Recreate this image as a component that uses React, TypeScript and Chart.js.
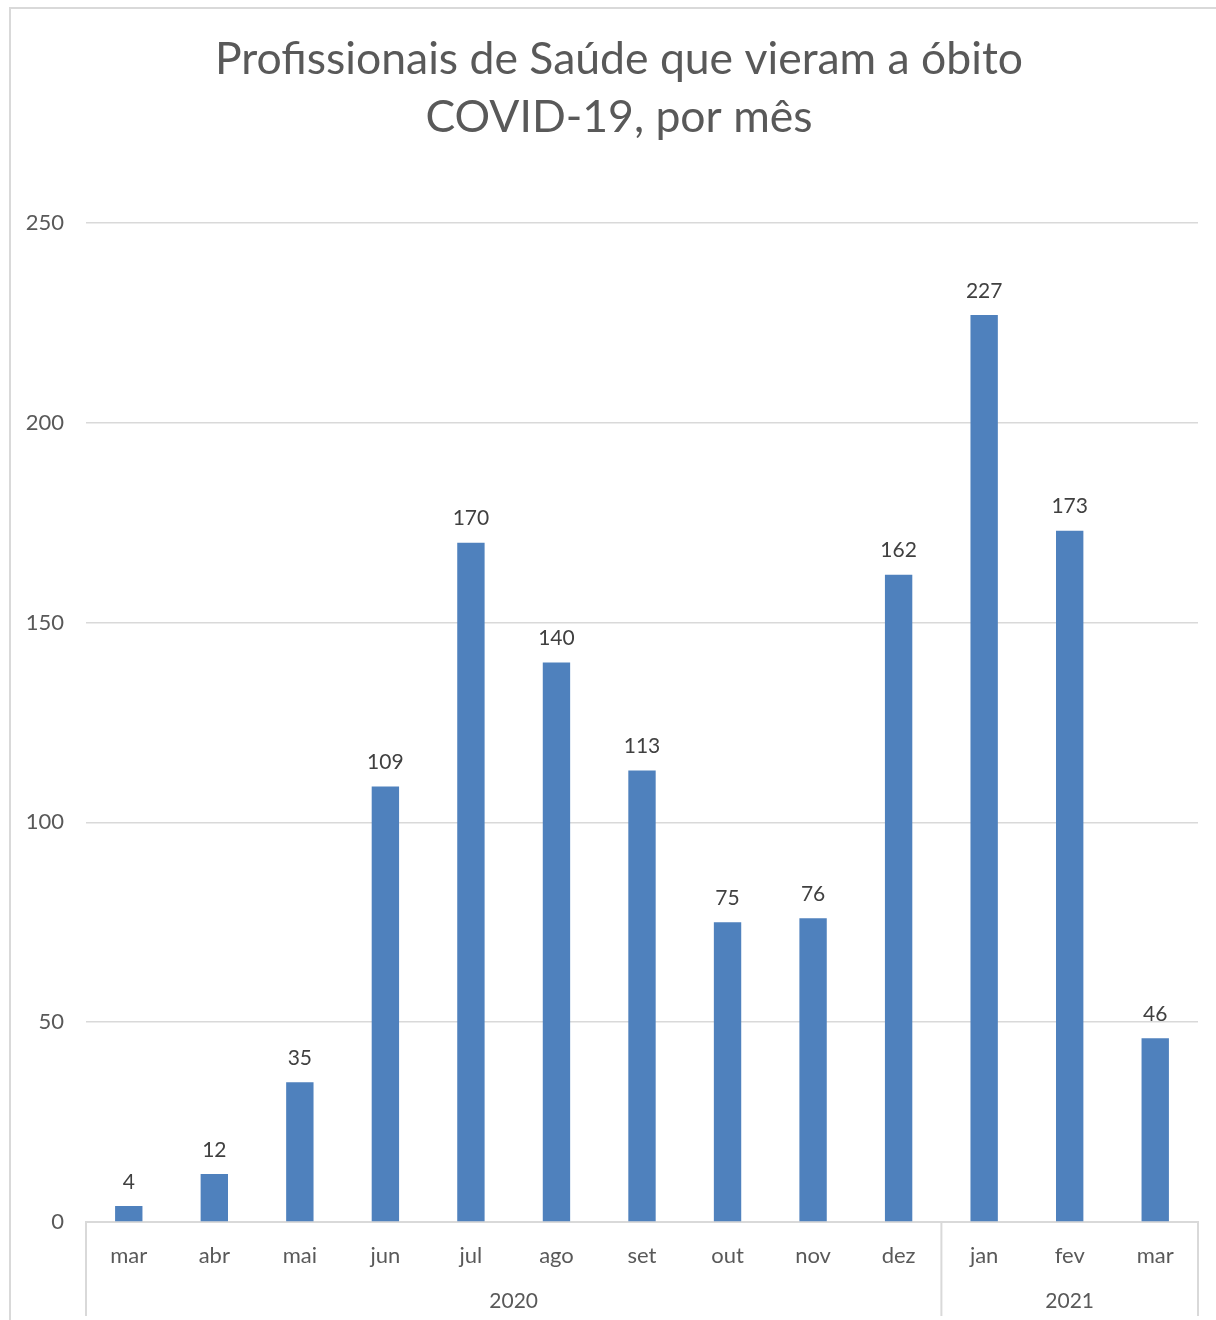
import React, { useEffect, useRef } from "react";
import { Chart, registerables } from "chart.js";

Chart.register(...registerables);

const titleLines = ["Profissionais de Saúde que vieram a óbito", "COVID-19, por mês"];
const months = ["mar", "abr", "mai", "jun", "jul", "ago", "set", "out", "nov", "dez", "jan", "fev", "mar"];
const deaths = [4, 12, 35, 109, 170, 140, 113, 75, 76, 162, 227, 173, 46];
const years = ["2020", "2021"];
const yearStarts = [0, 10];
const yTicks = [0, 50, 100, 150, 200, 250];

const FONT = "Lato, 'Open Sans', sans-serif";
const GRID = "#d9d9d9";

const framePlugin = {
  id: "frame",
  beforeDraw(chart: any) {
    const { ctx } = chart;
    ctx.save();
    ctx.fillStyle = "#ffffff";
    ctx.fillRect(0, 0, chart.width, chart.height);
    ctx.strokeStyle = GRID;
    ctx.lineWidth = 2;
    ctx.beginPath();
    ctx.moveTo(10, chart.height);
    ctx.lineTo(10, 8);
    ctx.lineTo(chart.width, 8);
    ctx.stroke();
    ctx.font = `44.5px ${FONT}`;
    ctx.fillStyle = "#595959";
    ctx.textAlign = "center";
    ctx.textBaseline = "middle";
    titleLines.forEach((t, i) => {
      ctx.fillText(t, chart.width / 2 + 11, 60 + i * 58);
    });
    ctx.restore();
  },
};

const labelsPlugin = {
  id: "valueLabels",
  afterDatasetsDraw(chart: any) {
    const { ctx } = chart;
    const meta = chart.getDatasetMeta(0);
    ctx.save();
    ctx.font = `21px ${FONT}`;
    ctx.fillStyle = "#404040";
    ctx.textAlign = "center";
    ctx.textBaseline = "middle";
    meta.data.forEach((bar: any, i: number) => {
      ctx.fillText(String(deaths[i]), bar.x, bar.y - 24);
    });
    ctx.restore();
  },
};

const groupPlugin = {
  id: "yearGroups",
  afterDraw(chart: any) {
    const { ctx, chartArea } = chart;
    const xs = chart.scales.x;
    const n = months.length;
    const edge = (i: number) => {
      if (i <= 0) return chartArea.left;
      if (i >= n) return chartArea.right;
      return (xs.getPixelForValue(i - 1) + xs.getPixelForValue(i)) / 2;
    };
    const bounds = [...yearStarts, n];
    ctx.save();
    ctx.strokeStyle = GRID;
    ctx.lineWidth = 2;
    bounds.forEach((b) => {
      const x = edge(b);
      ctx.beginPath();
      ctx.moveTo(x, chartArea.bottom);
      ctx.lineTo(x, chart.height - 4);
      ctx.stroke();
    });
    ctx.font = `21px ${FONT}`;
    ctx.fillStyle = "#595959";
    ctx.textAlign = "center";
    ctx.textBaseline = "middle";
    years.forEach((y, k) => {
      const x0 = edge(bounds[k]);
      const x1 = edge(bounds[k + 1]);
      ctx.fillText(y, (x0 + x1) / 2, chartArea.bottom + 79);
    });
    ctx.restore();
  },
};

export default function App() {
  const ref = useRef<HTMLCanvasElement>(null);
  useEffect(() => {
    if (!ref.current) return;
    const chart = new Chart(ref.current, {
      type: "bar",
      data: {
        labels: months,
        datasets: [
          {
            data: deaths,
            backgroundColor: "#4f81bd",
            borderWidth: 0,
            barPercentage: 0.32,
            categoryPercentage: 1,
          },
        ],
      },
      options: {
        responsive: false,
        animation: false,
        devicePixelRatio: 1,
        layout: { padding: { left: 10, right: 18, top: 223, bottom: 0 } },
        plugins: {
          legend: { display: false },
          tooltip: { enabled: false },
          title: { display: false },
        },
        scales: {
          x: {
            grid: { display: false, drawTicks: false },
            border: { display: true, color: GRID, width: 2 },
            ticks: {
              color: "#595959",
              font: { family: FONT, size: 22 },
              padding: 21,
              maxRotation: 0,
            },
            afterFit(scale: any) {
              scale.height = 98;
            },
          },
          y: {
            min: 0,
            max: 250,
            afterBuildTicks(scale: any) {
              scale.ticks = yTicks.map((v) => ({ value: v }));
            },
            grid: { color: GRID, lineWidth: 1.5, drawTicks: false },
            border: { display: false },
            ticks: {
              color: "#595959",
              font: { family: FONT, size: 22 },
              padding: 22,
            },
            afterFit(scale: any) {
              scale.width = 76;
            },
          },
        },
      },
      plugins: [framePlugin, labelsPlugin, groupPlugin],
    });
    return () => chart.destroy();
  }, []);
  return (
    <div style={{ position: "absolute", left: 0, top: 0, width: 1216, height: 1320 }}>
      <canvas ref={ref} width={1216} height={1320} style={{ width: 1216, height: 1320 }} />
    </div>
  );
}
